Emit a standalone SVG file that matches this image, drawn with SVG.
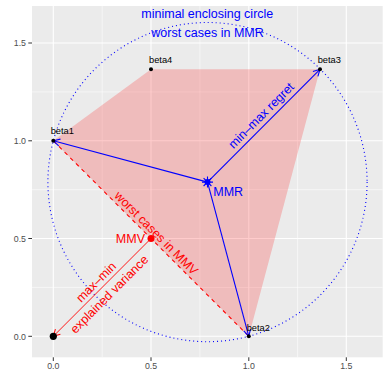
<svg xmlns="http://www.w3.org/2000/svg" width="388" height="388" viewBox="0 0 388 388">
<style>
.maj{stroke:#FFFFFF;stroke-width:1.1;fill:none}
.min{stroke:#FFFFFF;stroke-width:0.55;fill:none}
.tick{stroke:#333333;stroke-width:1}
.tl{font-family:"Liberation Sans",Arial,sans-serif;font-size:8.8px;fill:#4D4D4D}
.bl{font-family:"Liberation Sans",Arial,sans-serif;font-size:9.3px;fill:#000000}
.blue{font-family:"Liberation Sans",Arial,sans-serif;font-size:12.5px;fill:#0000FF}
.red{font-family:"Liberation Sans",Arial,sans-serif;font-size:12.5px;fill:#FF0000}
.bline{stroke:#0000FF;stroke-width:1.1;fill:none}
</style>
<defs>
<marker id="ab" viewBox="-10 -5 12 10" refX="0" refY="0" markerWidth="12" markerHeight="10" orient="auto" markerUnits="userSpaceOnUse" overflow="visible">
<path d="M-6.5,-3.5 L0,0 L-6.5,3.5" fill="none" stroke="#0000FF" stroke-width="1.1"/>
</marker>
<marker id="ar" viewBox="-10 -5 12 10" refX="0" refY="0" markerWidth="12" markerHeight="10" orient="auto" markerUnits="userSpaceOnUse" overflow="visible">
<path d="M-6.5,-3.5 L0,0 L-6.5,3.5" fill="none" stroke="#FF0000" stroke-width="1"/>
</marker>
</defs>
<rect x="0" y="0" width="388" height="388" fill="#FFFFFF"/>
<g id="panel">
<rect x="32" y="6" width="350.7" height="351.3" fill="#EBEBEB"/>
<path class="min" d="M102.2,6V357.3M199.9,6V357.3M297.6,6V357.3M32,287.4H382.7M32,189.7H382.7M32,91.9H382.7"/>
<path class="maj" d="M53.3,6V357.3M151,6V357.3M248.8,6V357.3M346.3,6V357.3M32,336.3H382.7M32,238.5H382.7M32,140.8H382.7M32,43H382.7"/>
</g>
<g id="axes">
<path class="tick" d="M28.3,336.3H32M28.3,238.5H32M28.3,140.8H32M28.3,43H32M53.3,357.3V361M151,357.3V361M248.8,357.3V361M346.3,357.3V361"/>
<text class="tl" x="26" y="339.5" text-anchor="end">0.0</text>
<text class="tl" x="26" y="241.7" text-anchor="end">0.5</text>
<text class="tl" x="26" y="144" text-anchor="end">1.0</text>
<text class="tl" x="26" y="46.2" text-anchor="end">1.5</text>
<text class="tl" x="53.3" y="368.5" text-anchor="middle">0.0</text>
<text class="tl" x="151" y="368.5" text-anchor="middle">0.5</text>
<text class="tl" x="248.8" y="368.5" text-anchor="middle">1.0</text>
<text class="tl" x="346.3" y="368.5" text-anchor="middle">1.5</text>
</g>
<g id="hull">
<polygon points="53.3,140.8 151,69.3 320,69.3 248.8,336.3" fill="#FF0000" fill-opacity="0.2"/>
</g>
<g id="circle">
<circle cx="207.5" cy="182.1" r="159.6" fill="none" stroke="#0000FF" stroke-width="1.1" stroke-dasharray="1 3"/>
</g>
<g id="connectors">
<line x1="53.3" y1="140.8" x2="248.8" y2="336.3" stroke="#FF0000" stroke-width="1.1" stroke-dasharray="4 4"/>
<line class="bline" x1="207.5" y1="182.1" x2="53.3" y2="140.8" marker-end="url(#ab)"/>
<line class="bline" x1="207.5" y1="182.1" x2="248.8" y2="336.3" marker-end="url(#ab)"/>
<line class="bline" x1="207.5" y1="182.1" x2="320" y2="69.3" marker-end="url(#ab)"/>
<line x1="151" y1="238.5" x2="53.3" y2="336.3" stroke="#FF0000" stroke-width="0.9" marker-end="url(#ar)"/>
</g>
<g id="beta1"><circle cx="53.3" cy="140.8" r="2" fill="#000"/><text class="bl" x="50.7" y="134">beta1</text></g>
<g id="beta2"><circle cx="248.8" cy="336.3" r="2" fill="#000"/><text class="bl" x="246.7" y="330.7">beta2</text></g>
<g id="beta3"><circle cx="320" cy="69.3" r="2" fill="#000"/><text class="bl" x="317.7" y="62.5">beta3</text></g>
<g id="beta4"><circle cx="151" cy="69.3" r="2" fill="#000"/><text class="bl" x="149" y="62.5">beta4</text></g>
<g id="origin"><circle cx="53.3" cy="336.3" r="3.6" fill="#000"/></g>
<g id="MMR">
<circle cx="207.5" cy="182.1" r="3" fill="#0000FF"/>
<path d="M207.5,176.6V187.6M202,182.1H213M203.6,178.2L211.4,186M203.6,186L211.4,178.2" stroke="#0000FF" stroke-width="1.1"/>
<text class="blue" x="213.3" y="195.7">MMR</text>
</g>
<g id="MMV">
<circle cx="151" cy="238.5" r="3.5" fill="#FF0000"/>
<text class="red" x="145" y="243.3" text-anchor="end">MMV</text>
</g>
<g id="labels">
<text class="blue" x="207.3" y="18" text-anchor="middle">minimal enclosing circle</text>
<text class="blue" x="207.5" y="36.5" text-anchor="middle">worst cases in MMR</text>
<text class="blue" transform="translate(262,116.3) rotate(-45)" x="0" y="3" text-anchor="middle">min–max regret</text>
<text class="red" transform="translate(151,238.5) rotate(45)" x="0" y="-3.4" text-anchor="middle">worst cases in MMV</text>
<text class="red" transform="translate(102.2,287.4) rotate(-45)" x="-0.5" y="-3.9" text-anchor="middle">max–min</text>
<text class="red" transform="translate(102.2,287.4) rotate(-45)" x="0.1" y="14.1" text-anchor="middle">explained variance</text>
</g>
</svg>
